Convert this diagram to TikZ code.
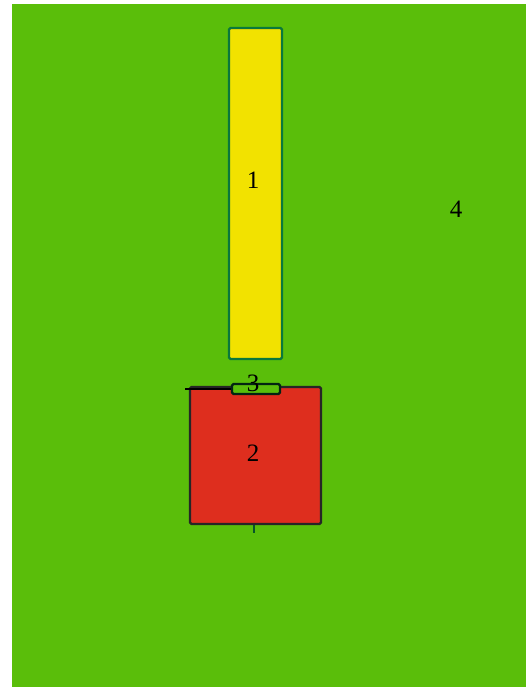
\documentclass[tikz,border=0pt]{standalone}
\usepackage{fontspec}
\setmainfont{Liberation Serif}
\definecolor{fieldgreen}{RGB}{90,190,10}
\definecolor{edgegreen}{RGB}{10,120,60}
\definecolor{cropyellow}{RGB}{242,226,0}
\definecolor{cropred}{RGB}{222,46,30}
\begin{document}
\begin{tikzpicture}[
    x=1pt, y=-1pt,
    every node/.style={font=\fontsize{25}{25}\selectfont, inner sep=0pt},
    plot/.style={draw=edgegreen, line width=2.2pt, rounded corners=1.5pt, anchor=center},
    edge/.style={line width=2pt}
]
  \useasboundingbox (0,0) rectangle (526,687);
  \fill[fieldgreen] (12,4) rectangle (526,687);

  \node[plot, fill=cropyellow, minimum width=53pt, minimum height=331pt] (one) at (255.5,193.5) {};
  \node[plot, fill=cropred, draw=black!85, minimum width=131pt, minimum height=137pt] (two) at (255.5,455.5) {};
  \node[plot, fill=fieldgreen, draw=black!70!edgegreen, minimum width=48pt, minimum height=10pt] (three) at (256,389) {};

  % Labels
  \node at (253,180) {1};
  \node at (253,453) {2};
  \node at (253,383) {3};
  \node at (456,209) {4};

  \coordinate (lineend) at (185,389);
  \coordinate (tickend) at (254,533);
  \draw[edge, black] (lineend) -- (three.west);
  \draw[edge, edgegreen!70!black] ([xshift=-1.5pt]two.south) -- ([xshift=-1.5pt]two.south |- tickend);
\end{tikzpicture}
\end{document}
